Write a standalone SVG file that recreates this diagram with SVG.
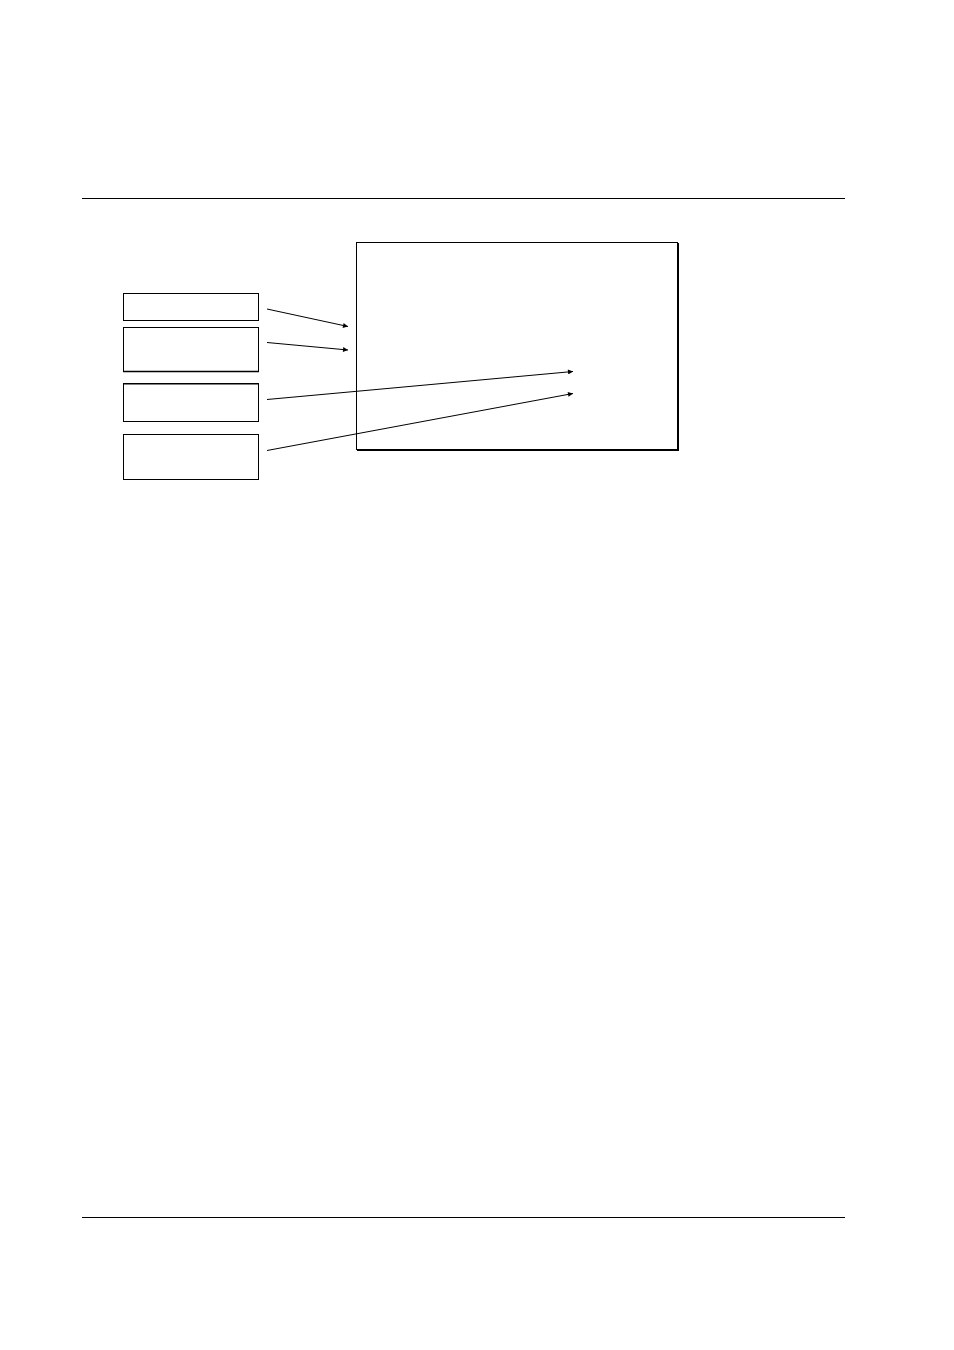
<svg xmlns="http://www.w3.org/2000/svg" width="954" height="1350" viewBox="0 0 954 1350">
<style>
.box{fill:#fff;stroke:#000;stroke-width:1}
.rule{stroke:#000;stroke-width:1}
.conn{stroke:#000;stroke-width:1;fill:none}
</style>
<defs>
<marker id="ah" viewBox="0 0 10 10" refX="10" refY="5" markerWidth="7" markerHeight="5" orient="auto" markerUnits="userSpaceOnUse">
<path d="M0,0 L10,5 L0,10 z" fill="#000"/>
</marker>
</defs>
<rect width="954" height="1350" fill="#fff"/>
<line class="rule" x1="82" y1="198.5" x2="845" y2="198.5"/>
<line class="rule" x1="82" y1="1217.5" x2="845" y2="1217.5"/>
<g id="main">
<rect class="box" x="356.5" y="242.5" width="321" height="207"/>
<line stroke="#000" stroke-width="2" x1="678" y1="243" x2="678" y2="451"/>
<line stroke="#000" stroke-width="2" x1="357" y1="450" x2="679" y2="450"/>
</g>
<g id="n1"><rect class="box" x="123.5" y="293.5" width="135" height="27"/></g>
<g id="n2"><rect class="box" x="123.5" y="327.5" width="135" height="44"/><line stroke="#000" stroke-width="1.5" x1="123" y1="371.5" x2="259" y2="371.5"/></g>
<g id="n3"><rect class="box" x="123.5" y="383.5" width="135" height="38"/><line stroke="#000" stroke-width="1.5" x1="123" y1="383.8" x2="259" y2="383.8"/></g>
<g id="n4"><rect class="box" x="123.5" y="434.5" width="135" height="45"/></g>
<g id="connectors">
<line class="conn" x1="267" y1="309" x2="348" y2="326.5" marker-end="url(#ah)"/>
<line class="conn" x1="267" y1="342.5" x2="348" y2="350" marker-end="url(#ah)"/>
<line class="conn" x1="267" y1="399.5" x2="573" y2="371.5" marker-end="url(#ah)"/>
<line class="conn" x1="267" y1="450.5" x2="573" y2="393.5" marker-end="url(#ah)"/>
</g>
</svg>
